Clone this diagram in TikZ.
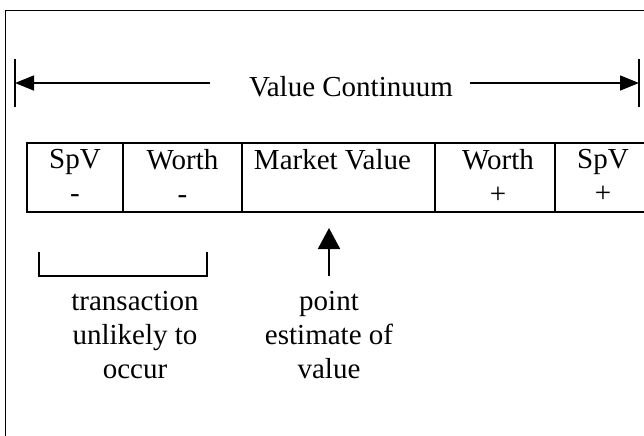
\documentclass[tikz,border=0pt]{standalone}
\usepackage{fontspec}
\setmainfont{Liberation Serif}
\usepackage{tikz}
\usetikzlibrary{arrows.meta,calc}
\usepackage{xcolor}
\definecolor{ScaleInk}{HTML}{000000}

\tikzset{
   bodyfont/.style={font=\fontsize{14.5pt}{17pt}\selectfont},
   cell/.style={draw=ScaleInk, line width=1pt, anchor=north west, minimum height=34.5pt, inner sep=0pt},
   celltext/.style={bodyfont, anchor=north, align=center, inner sep=3.4pt},
   note/.style={bodyfont, anchor=north, align=center, inner sep=0pt},
   span/.style={draw=ScaleInk, line width=0.75pt, -{Triangle[length=9.5pt,width=7.5pt]}},
   uparrow/.style={draw=ScaleInk, line width=1pt, -{Triangle[length=10.5pt,width=11pt]}},
   thin/.style={draw=ScaleInk, line width=0.75pt}
}

\begin{document}
\begin{tikzpicture}[x=0.5pt,y=-0.5pt]
   \useasboundingbox (0,0) rectangle (644,435);
   \clip (0,0) rectangle (644,435);
   \draw[thin] (5.5,10.5) rectangle (700,500);

   \node[bodyfont, anchor=base, inner sep=0pt] (vc) at (351,96) {Value Continuum};
   \coordinate (lbar) at (15,83);
   \coordinate (rbar) at (639,83);
   \draw[thin] (lbar) ++(0,-24) -- ++(0,48);
   \draw[thin] (rbar) ++(0,-24) -- ++(0,48);
   \draw[span] (vc.west |- lbar) ++(-39,0) -- (lbar);
   \draw[span] (vc.east |- rbar) ++(17,0) -- (rbar);

   \foreach \x/\w/\dx/\head/\sign [count=\i] in {26/96/0/SpV/-, 122/119/0/Worth/-, 241/193/-3/Market Value/{}, 434/120/1.5/Worth/+, 554/96/0/SpV/+} {
    \node[cell, minimum width=\w*0.5pt] (cell\i) at (\x,142) {};
    \node[celltext, xshift=\dx pt] (label\i) at (cell\i.north) {\head\\\sign};
   }

   \draw[thin] (39,252) |- (207,276) -- (207,252);
   \node[note] (unlikely) at (135,291) {transaction\\unlikely to\\occur};
   \node[note] (estimate) at (329,291) {point\\estimate of\\value};
   \draw[uparrow] (estimate.north) ++(0,-15) -- ++(0,-48);
\end{tikzpicture}
\end{document}
